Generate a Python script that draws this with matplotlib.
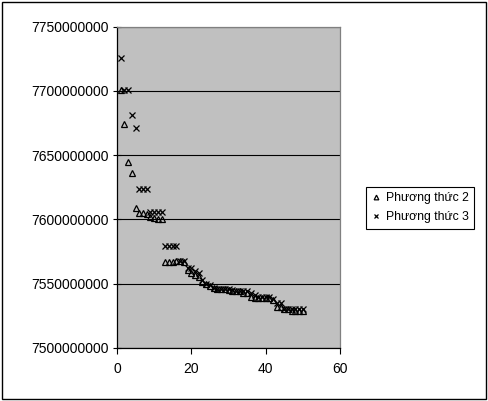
import matplotlib.pyplot as plt
import numpy as np
from matplotlib.patches import Rectangle
from matplotlib.ticker import FuncFormatter

plt.rcParams['font.family'] = ['Liberation Sans', 'DejaVu Sans']

# giá trị hàm mục tiêu (triệu) theo lần chạy 1..50
lan_chay = np.arange(1, 51)

phuong_thuc_2 = [7701, 7674, 7645, 7636, 7609, 7605, 7605, 7604, 7602, 7601,
                 7600, 7600, 7567, 7567, 7567, 7568, 7568, 7567, 7561, 7558,
                 7557, 7555, 7551, 7550, 7548, 7547, 7546, 7546, 7546, 7545,
                 7544, 7544, 7544, 7543, 7543, 7540, 7539, 7539, 7539, 7539,
                 7539, 7537, 7532, 7532, 7530, 7530, 7529, 7529, 7529, 7529]

phuong_thuc_3 = [7726, 7701, 7701, 7681, 7671, 7624, 7624, 7624, 7606, 7606,
                 7606, 7606, 7579, 7579, 7579, 7579, 7568, 7568, 7562, 7562,
                 7560, 7558, 7553, 7550, 7549, 7547, 7546, 7546, 7546, 7546,
                 7545, 7544, 7544, 7544, 7544, 7543, 7541, 7540, 7540, 7540,
                 7540, 7538, 7535, 7535, 7530, 7530, 7530, 7530, 7530, 7530]

y2 = np.array(phuong_thuc_2) * 1e6
y3 = np.array(phuong_thuc_3) * 1e6

fig = plt.figure(figsize=(4.88, 4.01), dpi=100)
ax = fig.add_axes([0.2398, 0.1322, 0.4569, 0.8012])
ax.set_facecolor('#C0C0C0')

ax.plot(lan_chay, y2, linestyle='none', marker='^', markersize=4.2,
        markerfacecolor='none', markeredgecolor='black', markeredgewidth=0.9,
        label='Phương thức 2')
ax.plot(lan_chay, y3, linestyle='none', marker='x', markersize=4.2,
        color='black', markeredgewidth=0.9, label='Phương thức 3')

ax.set_xlim(0, 60)
ax.set_ylim(7.5e9, 7.75e9)
ax.set_xticks([0, 20, 40, 60])
ax.set_yticks(np.arange(7.5e9, 7.75e9 + 1, 5e7))
ax.yaxis.set_major_formatter(FuncFormatter(lambda v, p: '%d' % round(v)))
ax.grid(axis='y', color='black', linewidth=0.8)
ax.set_axisbelow(True)

ax.tick_params(axis='x', direction='out', length=4, labelsize=10, pad=6)
ax.tick_params(axis='y', direction='inout', length=6, labelsize=10, pad=3)

for s in ['left', 'bottom']:
    ax.spines[s].set_color('black')
    ax.spines[s].set_linewidth(0.9)
for s in ['top', 'right']:
    ax.spines[s].set_color('#808080')
    ax.spines[s].set_linewidth(0.9)

leg = fig.legend(loc='center left', bbox_to_anchor=(0.737, 0.482),
                 fontsize=8.8, frameon=True, fancybox=False, framealpha=1,
                 edgecolor='black', handlelength=0.7, handletextpad=0.5,
                 borderpad=0.45, labelspacing=0.6, markerscale=0.8)
leg.get_frame().set_linewidth(0.8)

# khung viền ngoài
fig.patches.append(Rectangle((0.004, 0.004), 0.992, 0.992, transform=fig.transFigure,
                             fill=False, edgecolor='black', linewidth=1))

fig.savefig('out.png', dpi=100)
